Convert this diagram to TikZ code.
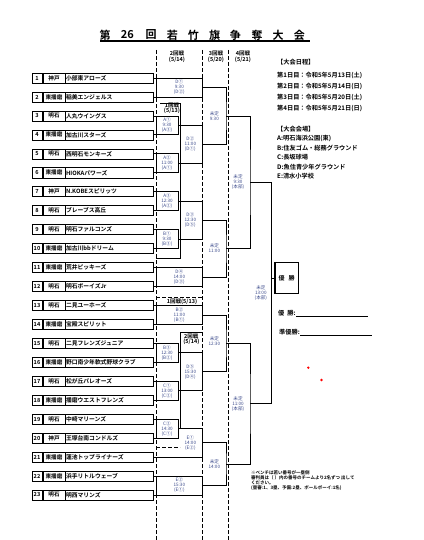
\documentclass[tikz,border=0pt]{standalone}
\usepackage{fontspec}
\setmainfont{Noto Sans CJK JP}[BoldFont={Noto Sans CJK JP Bold}]
\definecolor{gamecol}{RGB}{60,75,140}
\begin{document}
\begin{tikzpicture}[x=1pt,y=-1pt,
	cell/.style={draw,line width=0.5pt,inner sep=0pt,minimum height=10pt,font=\fontsize{5.6}{6}\selectfont\bfseries},
	namecell/.style={cell,text width=86pt,inner xsep=1pt,align=left,font=\fontsize{5.8}{6}\selectfont\bfseries},
	bline/.style={line width=0.7pt},
	colsep/.style={line width=0.5pt,dash pattern=on 4pt off 2pt},
	game/.style={draw,line width=0.7pt,inner sep=0pt,minimum height=18.95pt,align=center,text=gamecol,font=\fontsize{4.6}{5}\selectfont},
	gone/.style={game,minimum width=22pt},
	gtwo/.style={game,minimum width=46.7pt},
	gtext/.style={inner sep=0pt,align=center,text=gamecol,font=\fontsize{4.6}{5}\selectfont},
	hdr/.style={inner sep=0pt,align=center,font=\fontsize{5.5}{5.5}\selectfont\bfseries},
	info/.style={anchor=west,inner sep=0pt,font=\fontsize{6.2}{6.5}\selectfont\bfseries}]
	\useasboundingbox[fill=white] (0,0) rectangle (423,540);
	% titre
	\foreach \x/\c [count=\k] in {105/第,127.3/26,151/回,172.3/若,193.3/竹,214.7/旗,235.3/争,257/奪,278/大,299.3/会}
		\node[inner sep=0pt,font=\fontsize{11}{11}\selectfont\bfseries] (ttl\k) at (\x,35) {\c};
	\draw[line width=1.1pt] (100,41) -- (310,41);
	% colonnes
	\foreach \x in {156,202.7,228}
		\draw[colsep] (\x,50) -- (\x,540);
	\node[hdr] (c2) at (177,56.5) {2回戦\\(5/14)};
	\node[hdr] (c3) at (216,56.5) {3回戦\\(5/20)};
	\node[hdr] (c4) at (243,56.5) {4回戦\\(5/21)};
	% equipes
	\foreach \i/\reg/\team in {1/神戸/小部東アローズ,2/東播磨/稲美エンジェルス,3/明石/人丸ウイングス,4/東播磨/加古川スターズ,5/明石/西明石モンキーズ,6/東播磨/HIOKAパワーズ,7/神戸/N.KOBEスピリッツ,8/明石/ブレーブス高丘,9/明石/明石ファルコンズ,10/東播磨/加古川bbドリーム,11/東播磨/荒井ピッキーズ,12/明石/明石ボーイズJr,13/明石/二見ユーホーズ,14/東播磨/宝殿スピリット,15/明石/二見フレンズジュニア,16/東播磨/野口南少年軟式野球クラブ,17/明石/松が丘パレオーズ,18/東播磨/播磨ウエストフレンズ,19/明石/中崎マリーンズ,20/神戸/王塚台南コンドルズ,21/東播磨/蓮池トップライナーズ,22/東播磨/浜手リトルウェーブ,23/明石/明西マリンズ}{
		\pgfmathsetmacro\ty{78+(\i-1)*18.95}
		\node[cell,minimum width=10pt] (n\i) at (37,\ty) {\i};
		\node[cell,minimum width=22pt] (r\i) at (54,\ty) {\reg};
		\node[namecell] (t\i) at (109,\ty) {\team};}
	% 1er niveau
	\node[gtwo] (D1) at (179.35,87.475) {D①\\9:30\\(D②)};
	\node[gone] (A1) at (167,125.375) {A①\\9:30\\(A③)};
	\node[gone] (A2) at (167,163.275) {A②\\11:00\\(A①)};
	\node[gone] (A3) at (167,201.175) {A③\\12:30\\(A②)};
	\node[gone] (B1) at (167,239.075) {B①\\9:30\\(B③)};
	\node[gtwo] (D4) at (179.35,276.975) {D④\\14:00\\(D③)};
	\node[gtwo] (B2) at (179.35,314.875) {B②\\11:00\\(B①)};
	\node[gone] (B3) at (167,352.775) {B③\\12:30\\(B②)};
	\node[gone] (C1) at (167,390.675) {C①\\13:00\\(C②)};
	\node[gone] (C2) at (167,428.575) {C②\\14:30\\(C①)};
	\node[gtwo] (E2) at (179.35,485.425) {E②\\15:30\\(E①)};
	\foreach \i/\g in {1/D1,2/D1,3/A1,4/A1,5/A2,6/A2,7/A3,8/A3,9/B1,10/B1,11/D4,12/D4,13/B2,14/B2,15/B3,16/B3,17/C1,18/C1,19/C2,20/C2,22/E2,23/E2}
		\draw[bline] (t\i.east) -- (t\i.east -| \g.west);
	% tours suivants
	\coordinate (D2) at (202.7,144.325);
	\coordinate (D3) at (202.7,220.125);
	\coordinate (D5) at (202.7,371.725);
	\coordinate (E1) at (202.7,442.79);
	\coordinate (R3a) at (226,115.9);
	\coordinate (R3b) at (226,248.55);
	\coordinate (R3c) at (226,343.3);
	\coordinate (R3d) at (226,464.1);
	\coordinate (R4a) at (250,182.225);
	\coordinate (R4b) at (250,403.7);
	\coordinate (F) at (271.7,292.96);
	\draw[bline] (A1.east) -| (D2) |- (A2.east);
	\draw[bline] (A3.east) -| (D3) |- (B1.east);
	\draw[bline] (B3.east) -| (D5) |- (C1.east);
	\draw[bline] (C2.east) -| (E1) |- (t21.east);
	\draw[bline] (D1.east) -| (R3a) |- (D2);
	\draw[bline] (D3) -| (R3b) |- (D4.east);
	\draw[bline] (B2.east) -| (R3c) |- (D5);
	\draw[bline] (E1) -| (R3d) |- (E2.east);
	\draw[bline] (R3a) -| (R4a) |- (R3b);
	\draw[bline] (R3c) -| (R4b) |- (R3d);
	\draw[bline] (R4a) -| (F) |- (R4b);
	\node[gtext] (D2t) at (190.35,144.325) {D②\\11:00\\(D①)};
	\node[gtext] (D3t) at (190.35,220.125) {D③\\12:30\\(D⑤)};
	\node[gtext] (D5t) at (190.35,371.725) {D⑤\\15:30\\(D④)};
	\node[gtext] (E1t) at (190.35,442.79) {E①\\14:00\\(E②)};
	\node[gtext] (R3at) at (214.35,115.9) {未定\\9:30};
	\node[gtext] (R3bt) at (214.35,248.55) {未定\\11:00};
	\node[gtext] (R3ct) at (214.35,341) {未定\\12:30};
	\node[gtext] (R3dt) at (214.35,464.1) {未定\\14:00};
	\node[gtext] (R4at) at (238,182.225) {未定\\9:30\\(本部)};
	\node[gtext] (R4bt) at (238,403.7) {未定\\11:00\\(本部)};
	\node[gtext] (Ft) at (260.85,292.96) {未定\\13:00\\(本部)};
	% cadres 1er tour
	\draw[bline] (160,103.3) -| (180,258) -- (156,258);
	\node[hdr] (h1a) at (172,108.3) {1回戦\\(5/13)};
	\draw[colsep] (156,297.7) -- (202.7,297.7);
	\node[hdr] (h1b) at (182,302) {1回戦(5/13)};
	\draw[bline] (202.7,332.3) -| (180,428.575);
	\node[hdr] (h2b) at (191.35,339) {2回戦\\(5/14)};
	\draw[colsep] (156,447.5) -- (180,447.5);
	% vainqueur
	\node[draw,line width=1.4pt,minimum width=23.3pt,minimum height=30.6pt,inner sep=0pt,font=\fontsize{6}{6}\selectfont\bfseries] (win) at (286.65,278) {優\hspace{4pt}勝};
	\draw[bline] (F |- win.west) -- (win.west);
	\node[info] (lw) at (278,312.7) {優\hspace{3pt}勝:};
	\draw[line width=0.6pt] (lw.south east) -- ++(72,0);
	\node[info] (lr) at (279,331.7) {準優勝:};
	\draw[line width=0.6pt] (lr.south east) -- ++(72,0);
	\fill[red] (308.3,367.7) circle (1.3);
	\fill[red] (321.5,380) circle (1.3);
	% infos
	\node[info] (sch) at (277,62.5) {【大会日程】};
	\node[info] (d1) at (277,75) {第1日目：令和5年5月13日(土)};
	\node[info] (d2) at (277,86) {第2日目：令和5年5月14日(日)};
	\node[info] (d3) at (277,97.3) {第3日目：令和5年5月20日(土)};
	\node[info] (d4) at (277,108.6) {第4日目：令和5年5月21日(日)};
	\node[info] (ven) at (277,129) {【大会会場】};
	\node[info] (vA) at (277,138.5) {A:明石海浜公園(東)};
	\node[info] (vB) at (277,148.2) {B:住友ゴム・総務グラウンド};
	\node[info] (vC) at (277,157.5) {C:長坂球場};
	\node[info] (vD) at (277,166.8) {D:魚住青少年グラウンド};
	\node[info] (vE) at (277,176) {E:清水小学校};
	\node[info,align=left,font=\fontsize{4.5}{5}\selectfont\bfseries] (nt) at (251,480.5) {※ベンチは若い番号が一塁側\\審判員は（ ）内の番号のチームより2名ずつ 出して\\ください。\\(塁審:1、3塁、予備:2塁、ボールボーイ:1名)};
\end{tikzpicture}
\end{document}
